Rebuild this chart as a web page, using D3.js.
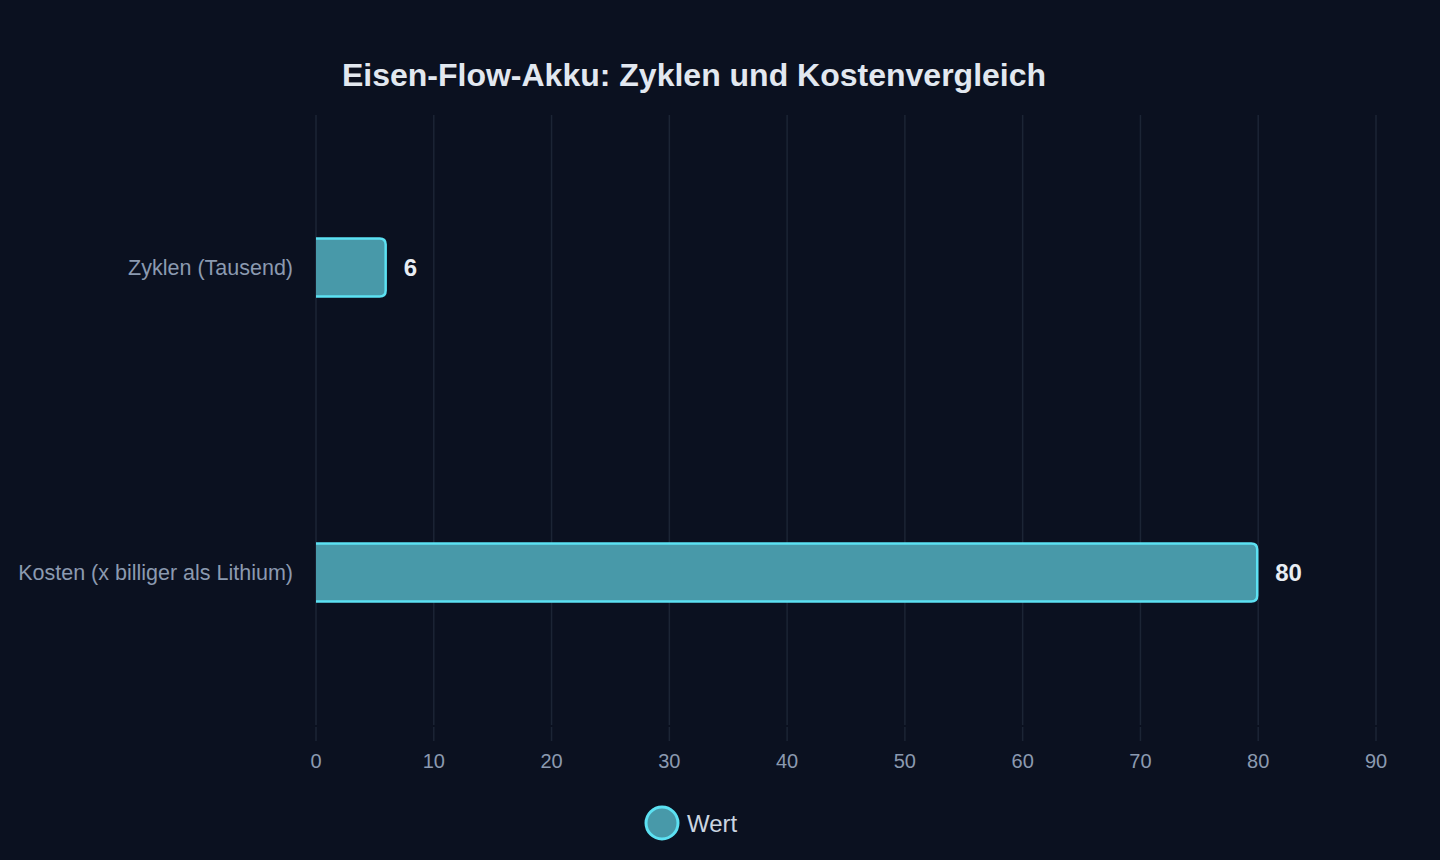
<!DOCTYPE html>
<html>
<head>
<meta charset="utf-8">
<script src="https://cdn.jsdelivr.net/npm/d3@7"></script>
<style>
  html, body { margin: 0; padding: 0; background: #0b1120; }
  svg { display: block; font-family: "Liberation Sans", Arial, sans-serif; }
</style>
</head>
<body>
<svg id="chart"></svg>
<script>
// data
const categories = ["Zyklen (Tausend)", "Kosten (x billiger als Lithium)"];
const values = [6, 80];
const xTicks = [0, 10, 20, 30, 40, 50, 60, 70, 80, 90];
const seriesName = "Wert";
const title = "Eisen-Flow-Akku: Zyklen und Kostenvergleich";

const W = 1440, H = 860;
const plotLeft = 316, plotRight = 1376, plotTop = 115, plotBottom = 725;

const svg = d3.select("#chart").attr("width", W).attr("height", H);
svg.append("rect").attr("width", W).attr("height", H).attr("fill", "#0b1120");

const x = d3.scaleLinear().domain([0, 90]).range([plotLeft, plotRight]);
const y = d3.scaleBand().domain(categories).range([plotTop, plotBottom]).padding(0);
const barH = y.bandwidth() * 0.19;

// grid
svg.append("g").selectAll("line")
  .data(xTicks).enter().append("line")
  .attr("x1", d => x(d)).attr("x2", d => x(d))
  .attr("y1", plotTop).attr("y2", plotBottom)
  .attr("stroke", "#1c2535").attr("stroke-width", 1.5);

// tick marks
svg.append("g").selectAll("line")
  .data(xTicks).enter().append("line")
  .attr("x1", d => x(d)).attr("x2", d => x(d))
  .attr("y1", plotBottom + 2).attr("y2", plotBottom + 16)
  .attr("stroke", "#1c2535").attr("stroke-width", 1.5);

// tick labels
svg.append("g").selectAll("text")
  .data(xTicks).enter().append("text")
  .attr("x", d => x(d)).attr("y", 768)
  .attr("text-anchor", "middle")
  .attr("font-size", 20).attr("fill", "#8b9ab0")
  .text(d => d);

// category labels
svg.append("g").selectAll("text")
  .data(categories).enter().append("text")
  .attr("x", 293).attr("y", d => y(d) + y.bandwidth() / 2 + 7.5)
  .attr("text-anchor", "end")
  .attr("font-size", 21.5).attr("fill", "#8b9ab0")
  .text(d => d);

// bars: rounded right corners, no left border
const r = 6;
function barPath(x0, x1, yc) {
  const y0 = yc - barH / 2, y1 = yc + barH / 2;
  return `M${x0},${y0} H${x1 - r} Q${x1},${y0} ${x1},${y0 + r} V${y1 - r} Q${x1},${y1} ${x1 - r},${y1} H${x0}`;
}
const bars = svg.append("g");
categories.forEach((c, i) => {
  const yc = y(c) + y.bandwidth() / 2;
  bars.append("path")
    .attr("d", barPath(x(0), x(values[i]) - 1, yc) + " Z")
    .attr("fill", "#4899a9");
  bars.append("path")
    .attr("d", barPath(x(0), x(values[i]) - 1, yc))
    .attr("fill", "none").attr("stroke", "#5ce1f2").attr("stroke-width", 2.5);
  bars.append("text")
    .attr("x", x(values[i]) + 17).attr("y", yc + 8)
    .attr("font-size", 24).attr("font-weight", "bold").attr("fill", "#e8edf3")
    .text(values[i]);
});

// title
svg.append("text")
  .attr("x", 694).attr("y", 86)
  .attr("text-anchor", "middle")
  .attr("font-size", 32).attr("font-weight", "bold").attr("fill", "#e2e8f0")
  .text(title);

// legend
svg.append("circle").attr("cx", 662).attr("cy", 823).attr("r", 16)
  .attr("fill", "#4899a9").attr("stroke", "#5ce1f2").attr("stroke-width", 3);
svg.append("text").attr("x", 687).attr("y", 832)
  .attr("font-size", 24).attr("fill", "#cbd5e1")
  .text(seriesName);
</script>
</body>
</html>
